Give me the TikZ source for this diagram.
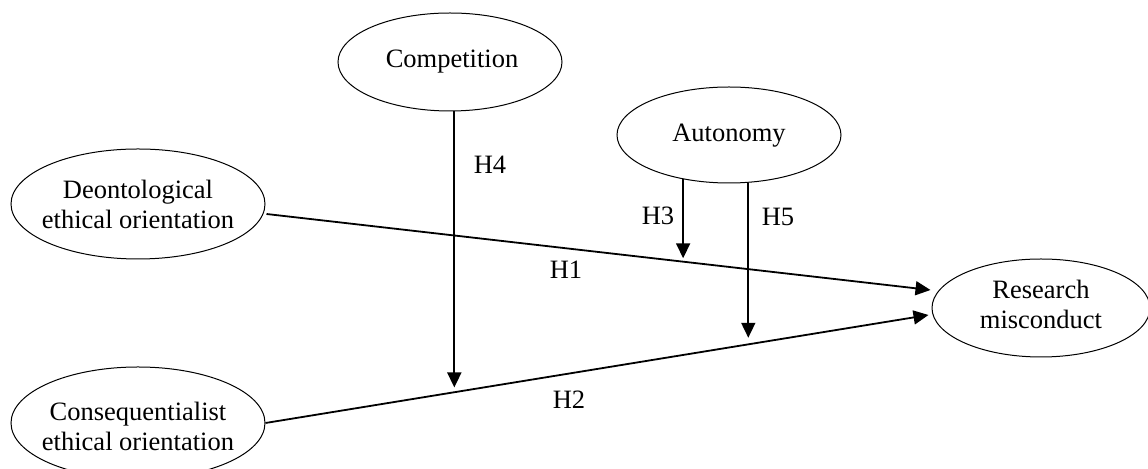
\documentclass[tikz,border=0pt]{standalone}
\usepackage{fontspec}
\setmainfont{Liberation Serif}
\usetikzlibrary{shapes.geometric,arrows.meta,calc}
\begin{document}
\begin{tikzpicture}[x=0.5pt,y=-0.5pt,
  ell/.style={draw, ellipse, line width=0.5pt, inner sep=0pt},
  lbl/.style={font=\fontsize{13.25}{15}\selectfont, align=center, inner sep=0pt},
  hyp/.style={font=\fontsize{13.25}{15}\selectfont, inner sep=0pt},
  arr/.style={line width=0.9pt, -{Triangle[length=7.5pt,width=7pt]}}]
\useasboundingbox (0,0) rectangle (1148,469);
\clip (0,0) rectangle (1148,469);
% ellipses
\node[ell, minimum width=112pt, minimum height=49pt] (comp) at (450,62) {};
\node[ell, minimum width=112pt, minimum height=48pt] (aut) at (729,135) {};
\node[ell, minimum width=127pt, minimum height=55pt] (d) at (138,204) {};
\node[ell, minimum width=127pt, minimum height=56pt] (c) at (138,423) {};
\node[ell, minimum width=109pt, minimum height=49pt] (r) at (1041,308) {};
% texts
\node[lbl] (tcomp) at (452,62) {Competition};
\node[lbl] (taut) at (729,136) {Autonomy};
\node[lbl] (td) at (138,204) {Deontological\\ethical orientation};
\node[lbl] (tc) at (138,426) {Consequentialist\\ethical orientation};
\node[lbl] (tr) at (1041,304) {Research\\misconduct};
% main paths
\draw[arr] ($(d.east)+(1,10)$) -- ($(r.west)+(-1,-18)$);
\draw[arr] (c.east) -- ($(r.west)+(-3,7)$);
% moderators
\draw[arr] (comp.-85.3) -- ++(0,276);
\draw[arr] (aut.-136.4) -- ++(0,79);
\draw[arr] (aut.-68.1) -- ++(0,155);
% labels
\node[hyp] (h4) at (490,165) {H4};
\node[hyp] (h1) at (566,270) {H1};
\node[hyp] (h2) at (569,400) {H2};
\node[hyp] (h3) at (658,216) {H3};
\node[hyp] (h5) at (778,217) {H5};
\end{tikzpicture}
\end{document}
